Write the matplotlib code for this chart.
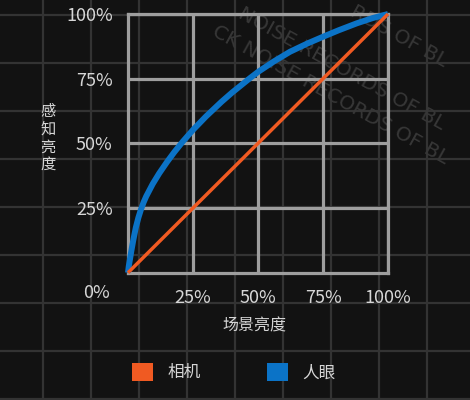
import numpy as np
import matplotlib
matplotlib.use("Agg")
from matplotlib import pyplot as plt
from matplotlib.patches import Patch

plt.rcParams['font.family'] = ['Noto Sans CJK SC', 'DejaVu Sans']

# scene brightness (x) vs perceived brightness (y)
camera_x = [0.0, 1.0]
camera_y = [0.0, 1.0]
eye_x = [0.0, 0.003, 0.008, 0.013, 0.02, 0.03, 0.04, 0.05, 0.06, 0.07, 0.095,
         0.12, 0.15, 0.178, 0.21, 0.25, 0.3, 0.359, 0.4, 0.469, 0.5, 0.56,
         0.623, 0.69, 0.75, 0.81, 0.88, 0.94, 1.0]
eye_y = [0.0, 0.025, 0.055, 0.085, 0.124, 0.174, 0.213, 0.245, 0.272, 0.295, 0.343,
         0.384, 0.428, 0.466, 0.506, 0.552, 0.604, 0.66, 0.696, 0.752, 0.776, 0.816,
         0.854, 0.886, 0.912, 0.937, 0.964, 0.984, 1.0]

x_ticks = [0.25, 0.5, 0.75, 1.0]
y_ticks = [0.25, 0.5, 0.75, 1.0]
tick_labels = ["25%", "50%", "75%", "100%"]
series_names = ["相机", "人眼"]
watermark = ["CK NOISE RECORDS OF BL", "NOISE RECORDS OF BL", "RDS OF BL"]

BG = "#121212"
GRID_BG = "#333333"
GRID = "#9e9e9e"
TEXT = "#d6d6d6"
ORANGE = "#f05a22"
BLUE = "#0b73c7"

W, H = 470, 400
fig = plt.figure(figsize=(4.7, 4.0), dpi=100, facecolor=BG)

# background with faint grid and watermark
bg = fig.add_axes([0, 0, 1, 1])
bg.set_xlim(0, W)
bg.set_ylim(H, 0)
bg.axis("off")
for gx in np.arange(43, W, 48):
    bg.axvline(gx, color=GRID_BG, lw=1.6, zorder=1)
for gy in np.arange(15, H, 48):
    bg.axhline(gy, color=GRID_BG, lw=1.6, zorder=1)
for (sx, sy), txt in zip([(214, 30), (240, 12), (352, 10)], watermark):
    bg.text(sx, sy, txt, rotation=-29, rotation_mode="anchor",
            ha="left", va="center", fontsize=14.5, color="#373737",
            family="DejaVu Sans", zorder=2)

# main chart
ax = fig.add_axes([128 / W, 1 - 272.7 / H, 260 / W, 258.7 / H])
ax.set_facecolor("none")
ax.set_xlim(0, 1)
ax.set_ylim(0, 1)

ax.plot(eye_x, eye_y, color=BLUE, lw=4.3, solid_capstyle="butt",
        solid_joinstyle="round", clip_on=False, zorder=4)
ax.plot(camera_x, camera_y, color=ORANGE, lw=2.5, solid_capstyle="butt",
        clip_on=False, zorder=5)

ax.set_xticks(x_ticks)
ax.set_yticks(y_ticks)
ax.set_xticklabels(tick_labels, fontweight="light")
ax.set_yticklabels(tick_labels, fontweight="light")
ax.tick_params(length=0, colors=TEXT, labelsize=13)
ax.tick_params(axis="x", pad=12)
ax.tick_params(axis="y", pad=11)
ax.grid(True, color=GRID, lw=2.3)
ax.set_axisbelow(True)
for sp in ax.spines.values():
    sp.set_color(GRID)
    sp.set_linewidth(2.3)

ax.text(-0.123, -0.078, "0%", transform=ax.transAxes, ha="center", va="center",
        fontsize=13, color=TEXT, fontweight="light")

fig.text(48 / W, 1 - 138 / H, "\n".join("感知亮度"), ha="center", va="center",
         fontsize=11, color=TEXT, linespacing=1.05, fontweight="light")
fig.text(254 / W, 1 - 326 / H, "场景亮度", ha="center", va="center",
         fontsize=11.5, color=TEXT, fontweight="light")

handles = [Patch(facecolor=ORANGE, edgecolor="none"), Patch(facecolor=BLUE, edgecolor="none")]
fig.legend(handles, series_names, loc="center", bbox_to_anchor=(234 / W, 1 - 372 / H),
           ncol=2, frameon=False, prop={"size": 12, "weight": "light"}, labelcolor=TEXT,
           handlelength=1.26, handleheight=1.26, handletextpad=0.85, columnspacing=4.0)

fig.savefig("out.png", dpi=100, facecolor=BG)
